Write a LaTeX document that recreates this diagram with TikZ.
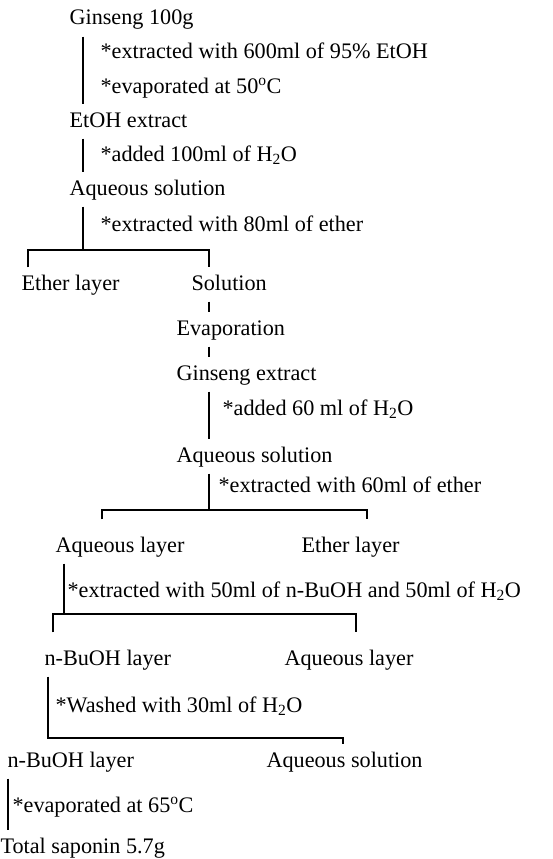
\documentclass[tikz,border=0pt]{standalone}
\usepackage{fontspec}
\setmainfont{Liberation Serif}
\begin{document}
\begin{tikzpicture}[x=1pt,y=-1pt,line width=1.1pt,
  every node/.style={anchor=base west,inner xsep=0pt,inner ysep=6pt,text height=16pt,text depth=5pt,font=\fontsize{22.2}{26}\selectfont},
  forkline/.style={shorten <=#1,shorten >=#1}]
\useasboundingbox (0,0) rectangle (553,859);
\node (ginseng) at (69,25) {Ginseng 100g};
\node (st1) at (100,59) {*extracted with 600ml of 95\% EtOH};
\node (st2) at (100,93) {*evaporated at 50\textsuperscript{o}C};
\node (etoh) at (69,127) {EtOH extract};
\node (st3) at (100,161) {*added 100ml of H\textsubscript{2}O};
\node (aq1) at (69,195) {Aqueous solution};
\node (st4) at (100,231) {*extracted with 80ml of ether};
\node (ether1) at (21,290) {Ether layer};
\node (sol) at (191,290) {Solution};
\node (evap) at (176,335) {Evaporation};
\node (gext) at (176,380) {Ginseng extract};
\node (st5) at (222,415) {*added 60 ml of H\textsubscript{2}O};
\node (aq2) at (176,462) {Aqueous solution};
\node (st6) at (218,492) {*extracted with 60ml of ether};
\node (aql1) at (55,552) {Aqueous layer};
\node (ether2) at (301,552) {Ether layer};
\node (st7) at (67,597) {*extracted with 50ml of n-BuOH and 50ml of H\textsubscript{2}O};
\node (buoh1) at (44,665) {n-BuOH layer};
\node (aql2) at (284,665) {Aqueous layer};
\node (st8) at (55,712) {*Washed with 30ml of H\textsubscript{2}O};
\node (buoh2) at (7,767) {n-BuOH layer};
\node (aqsol) at (266,767) {Aqueous solution};
\node (st9) at (12,812) {*evaporated at 65\textsuperscript{o}C};
\node (total) at (0,853) {Total saponin 5.7g};
\coordinate (s1) at (83,250);
\coordinate (s2) at (209,510);
\coordinate (s3) at (64,614);
\coordinate (s4) at (48,738);
\draw (ginseng.south west -| s1) -- (etoh.north west -| s1);
\draw (etoh.south west -| s1) -- (aq1.north west -| s1);
\draw (aq1.south west -| s1) -- (s1);
\draw ([xshift=7pt]ether1.north west) |- (s1) -| ([xshift=18pt]sol.north west);
\draw ([xshift=18pt]sol.south west) -- ([xshift=33pt]evap.north west);
\draw ([xshift=33pt]evap.south west) -- ([xshift=33pt]gext.north west);
\draw ([xshift=33pt]gext.south west) -- ([xshift=33pt]aq2.north west);
\draw (aq2.south west -| s2) -- (s2);
\draw[forkline=10pt] ([xshift=47pt]aql1.north west) |- (s2) -| ([xshift=66pt]ether2.north west);
\draw (aql1.south west -| s3) -- (s3);
\draw[forkline=10pt] ([xshift=9pt]buoh1.north west) |- (s3) -| ([xshift=72pt]aql2.north west);
\draw (buoh1.south west -| s4) -- (s4) -| ([xshift=77pt]aqsol.north west);
\draw ([xshift=1pt]buoh2.south west) -- ([xshift=8pt]total.north west);
\end{tikzpicture}
\end{document}
